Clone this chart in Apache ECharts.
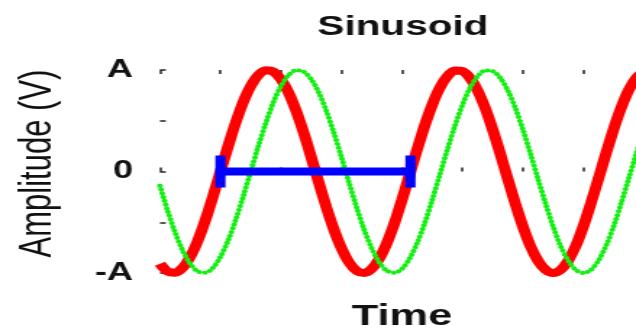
<!DOCTYPE html>
<html>
<head>
<meta charset="utf-8">
<script src="https://cdn.jsdelivr.net/npm/echarts@6/dist/echarts.min.js"></script>
<style>
  html, body { margin: 0; padding: 0; background: #fff; overflow: hidden; }
  /* the figure is laid out narrow and widened horizontally */
  #chart { width: 439px; height: 331px; transform: scaleX(1.4487); transform-origin: 0 0; }
</style>
</head>
<body>
<div id="chart"></div>
<script>
// time samples (axis units, ticks every 1)
const timeValues = [0, 0.125, 0.25, 0.375, 0.5, 0.625, 0.75, 0.875, 1, 1.125, 1.25, 1.375, 1.5, 1.625, 1.75, 1.875,
  2, 2.125, 2.25, 2.375, 2.5, 2.625, 2.75, 2.875, 3, 3.125, 3.25, 3.375, 3.5, 3.625, 3.75, 3.875,
  4, 4.125, 4.25, 4.375, 4.5, 4.625, 4.75, 4.875, 5, 5.125, 5.25, 5.375, 5.5, 5.625, 5.75, 5.875,
  6, 6.125, 6.25, 6.375, 6.5, 6.625, 6.75, 6.875, 7, 7.125, 7.25, 7.375, 7.5, 7.625, 7.75, 7.875, 8];

// reference signal (amplitude in units of A)
const redValues = [-0.909, -0.984, -0.997, -0.949, -0.841, -0.682, -0.479, -0.247,
  0, 0.247, 0.479, 0.682, 0.841, 0.949, 0.997, 0.984,
  0.909, 0.778, 0.598, 0.382, 0.141, -0.108, -0.351, -0.572,
  -0.757, -0.895, -0.978, -0.999, -0.959, -0.859, -0.706, -0.510,
  -0.279, -0.033, 0.215, 0.451, 0.657, 0.823, 0.938, 0.995,
  0.989, 0.921, 0.798, 0.625, 0.412, 0.174, -0.075, -0.319,
  -0.544, -0.737, -0.880, -0.970, -1.000, -0.968, -0.875, -0.730,
  -0.537, -0.308, -0.066, 0.182, 0.420, 0.632, 0.804, 0.925, 0.991];

// delayed signal
const greenValues = [-0.141, -0.382, -0.598, -0.778, -0.909, -0.984, -0.997, -0.949,
  -0.841, -0.682, -0.479, -0.247, 0, 0.247, 0.479, 0.682,
  0.841, 0.949, 0.997, 0.984, 0.909, 0.778, 0.598, 0.382,
  0.141, -0.108, -0.351, -0.572, -0.757, -0.895, -0.978, -0.999,
  -0.959, -0.859, -0.706, -0.510, -0.279, -0.033, 0.215, 0.451,
  0.657, 0.823, 0.938, 0.995, 0.989, 0.921, 0.798, 0.625,
  0.412, 0.174, -0.075, -0.319, -0.544, -0.737, -0.880, -0.970,
  -1.000, -0.968, -0.875, -0.730, -0.537, -0.308, -0.066, 0.182, 0.420];

// one period, marked along the zero line
const periodStart = 1.0;
const periodEnd = 4.14;

// amplitude tick labels at -1, -0.5, 0, 0.5, 1
const yTickValues = [-1, -0.5, 0, 0.5, 1];
const yTickLabels = ['-A', '', '0', '', 'A'];

const FONT = 'Liberation Sans, Arial, sans-serif';

const chart = echarts.init(document.getElementById('chart'), null, { renderer: 'canvas' });

const tickStyle = { show: true, inside: true, length: 4, lineStyle: { color: '#222', width: 1.5 } };

const option = {
  animation: false,
  backgroundColor: '#fff',
  title: {
    text: 'Sinusoid',
    left: 214,
    top: 8,
    textStyle: { fontFamily: FONT, fontSize: 28, fontWeight: 'bold', color: '#111' }
  },
  // fixed plot box; the right edge runs just past the visible area
  grid: { left: 110.4, right: -5.5, top: 70, bottom: 58, containLabel: false, outerBoundsMode: 'none' },
  xAxis: [
    {
      type: 'value', position: 'bottom', min: 0, max: 8, interval: 1,
      name: 'Time', nameLocation: 'middle', nameGap: 28.5,
      nameTextStyle: { fontFamily: FONT, fontSize: 30, fontWeight: 'bold', color: '#111' },
      axisLine: { show: false }, axisTick: tickStyle, axisLabel: { show: false }, splitLine: { show: false }
    },
    {
      type: 'value', position: 'top', min: 0, max: 8, interval: 1,
      axisLine: { show: false }, axisTick: tickStyle, axisLabel: { show: false }, splitLine: { show: false }
    }
  ],
  yAxis: {
    type: 'value', min: -1, max: 1, interval: 0.5,
    name: 'Amplitude (V)', nameLocation: 'middle', nameGap: 68, nameRotate: 90,
    nameTextStyle: { fontFamily: FONT, fontSize: 31, color: '#111', padding: [0, 0, 0, 16] },
    axisLine: { show: false },
    axisTick: tickStyle,
    axisLabel: {
      margin: 18.6, fontFamily: FONT, fontSize: 25, fontWeight: 'bold', color: '#111',
      formatter: v => {
        const i = yTickValues.findIndex(t => Math.abs(t - v) < 1e-9);
        return i >= 0 ? yTickLabels[i] : '';
      }
    },
    splitLine: { show: false }
  },
  series: [
    {
      type: 'line', smooth: 0.3, showSymbol: false, z: 2,
      data: timeValues.map((t, i) => [t, redValues[i]]),
      lineStyle: { color: '#ff0000', width: 8 }
    },
    {
      type: 'line', smooth: 0.3, showSymbol: false, z: 3,
      data: timeValues.map((t, i) => [t, greenValues[i]]),
      lineStyle: { color: '#11f011', width: 4, type: [0.01, 3.8], cap: 'round' }
    },
    {
      type: 'line', z: 4,
      data: [[periodStart, 0], [periodEnd, 0]],
      symbol: 'rect', symbolSize: [7, 32], showSymbol: true,
      itemStyle: { color: '#0000ff' },
      lineStyle: { color: '#0000ff', width: 8 }
    }
  ]
};

chart.setOption(option);
</script>
</body>
</html>
